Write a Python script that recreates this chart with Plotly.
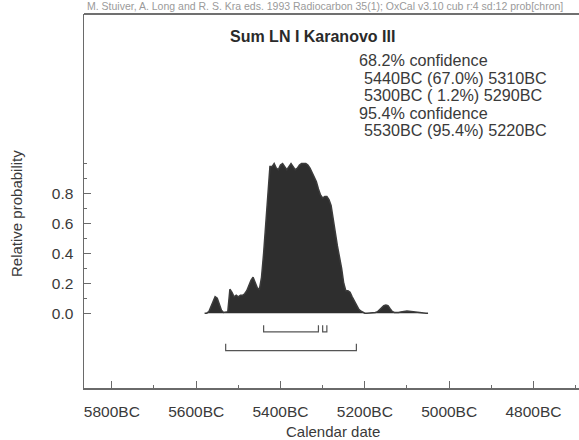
import plotly.graph_objects as go

# ---- data ----
years_bc = [5580, 5575, 5570, 5565, 5560, 5555, 5550, 5545, 5540, 5535, 5530, 5525,
            5520, 5515, 5510, 5505, 5500, 5495, 5490, 5485, 5480, 5475, 5470, 5465,
            5460, 5455, 5450, 5445, 5440, 5435, 5430, 5425, 5420, 5415, 5410, 5405,
            5400, 5395, 5390, 5385, 5380, 5375, 5370, 5365, 5360, 5355, 5350, 5345,
            5340, 5335, 5330, 5325, 5320, 5315, 5310, 5305, 5300, 5295, 5290, 5285,
            5280, 5275, 5270, 5265, 5260, 5255, 5250, 5245, 5240, 5235, 5230, 5225,
            5220, 5215, 5210, 5205, 5200, 5195, 5190, 5185, 5180, 5175, 5170, 5165,
            5160, 5155, 5150, 5145, 5140, 5135, 5130, 5125, 5120, 5115, 5110, 5105,
            5100, 5095, 5090, 5085, 5080, 5075, 5070, 5065, 5060, 5055, 5050]
probability = [0.0, 0.0, 0.01, 0.04, 0.08, 0.11, 0.10, 0.06, 0.02, 0.005, 0.005, 0.01,
               0.16, 0.14, 0.11, 0.12, 0.11, 0.12, 0.12, 0.13, 0.15, 0.19, 0.22, 0.24,
               0.21, 0.17, 0.16, 0.24, 0.40, 0.60, 0.85, 0.98, 0.98, 1.0, 0.97, 0.96,
               0.99, 1.0, 0.98, 0.96, 0.98, 1.0, 0.98, 0.96, 0.97, 0.99, 1.0, 1.0,
               1.0, 0.99, 0.97, 0.94, 0.91, 0.88, 0.83, 0.79, 0.77, 0.78, 0.78, 0.76,
               0.72, 0.64, 0.54, 0.45, 0.38, 0.30, 0.20, 0.15, 0.15, 0.14, 0.11, 0.08,
               0.05, 0.03, 0.015, 0.005, 0.0, 0.0, 0.0, 0.0, 0.003, 0.005, 0.01, 0.025,
               0.04, 0.05, 0.055, 0.05, 0.03, 0.012, 0.005, 0.003, 0.005, 0.008, 0.011, 0.013,
               0.014, 0.013, 0.011, 0.008, 0.005, 0.003, 0.002, 0.001, 0.001, 0.0, 0.0]

range_68_from = [5440, 5300]
range_68_to = [5310, 5290]
range_95_from = [5530]
range_95_to = [5220]

title_text = "Sum LN I Karanovo III"
conf_lines = ["68.2% confidence",
              "5440BC (67.0%) 5310BC",
              "5300BC ( 1.2%) 5290BC",
              "95.4% confidence",
              "5530BC (95.4%) 5220BC"]
header_text = ("M. Stuiver, A. Long and R. S. Kra eds. 1993 Radiocarbon 35(1); "
               "OxCal v3.10 cub r:4 sd:12 prob[chron]")

x_major = [5800, 5600, 5400, 5200, 5000, 4800]
x_minor = [5700, 5500, 5300, 5100, 4900, 4700]
x_labels = ["5800BC", "5600BC", "5400BC", "5200BC", "5000BC", "4800BC"]
y_major = [0.0, 0.2, 0.4, 0.6, 0.8]
y_minor = [0.1, 0.3, 0.5, 0.7, 0.9, 1.0]
y_labels = ["0.0", "0.2", "0.4", "0.6", "0.8"]

# ---- layout geometry (page body margin removed in post_script) ----
W, H = 579, 440
L = 84
T = 14
PLOT_BOTTOM = 388
B = H - PLOT_BOTTOM
R = 0
PW, PH = W - L - R, H - T - B

def px(xp):
    return (xp - L) / PW

def py(yp):
    return (PLOT_BOTTOM - yp) / PH

FONT = "Liberation Sans, Arial, sans-serif"
TXT = "#3a3a3a"
AX = "#6a6a6a"

fig = go.Figure()

fig.add_trace(go.Scatter(
    x=years_bc, y=probability, mode="lines", fill="tozeroy",
    fillcolor="#2e2e2e", line=dict(color="#3c3c3c", width=1.5),
    hoverinfo="skip", showlegend=False))

# confidence range brackets
def bracket(x0, x1, yb, hook):
    fig.add_trace(go.Scatter(
        x=[x0, x0, x1, x1], y=[yb + hook, yb, yb, yb + hook], mode="lines",
        line=dict(color="#555555", width=1.2), hoverinfo="skip", showlegend=False))

for a, b in zip(range_68_from, range_68_to):
    bracket(a, b, -0.125, 0.045)
for a, b in zip(range_95_from, range_95_to):
    bracket(a, b, -0.25, 0.045)

# top frame line of the plot box
fig.add_shape(type="line", xref="paper", yref="paper", x0=0, x1=1, y0=1, y1=1,
              line=dict(color="#707070", width=2), layer="above")

annotations = [
    dict(text=f"<b>{title_text}</b>", x=px(312), y=py(36), xref="paper", yref="paper",
         showarrow=False, font=dict(family=FONT, size=16, color="#2a2a2a"),
         xanchor="center", yanchor="middle"),
    dict(text=header_text, x=px(325), y=py(6), xref="paper", yref="paper",
         showarrow=False, font=dict(family=FONT, size=10.5, color="#9a9a9a"),
         xanchor="center", yanchor="middle"),
    dict(text="Relative probability", x=px(17), y=py(214), xref="paper", yref="paper",
         showarrow=False, textangle=-90, font=dict(family=FONT, size=15, color=TXT),
         xanchor="center", yanchor="middle"),
    dict(text="Calendar date", x=px(333), y=py(431), xref="paper", yref="paper",
         showarrow=False, font=dict(family=FONT, size=15, color=TXT),
         xanchor="center", yanchor="middle"),
]
line_y = [60, 77.5, 95, 112.5, 130]
line_x = [357, 362, 362, 357, 362]
for txt, yy, xx in zip(conf_lines, line_y, line_x):
    annotations.append(dict(text=txt, x=px(xx), y=py(yy), xref="paper", yref="paper",
                            showarrow=False, font=dict(family=FONT, size=16.2, color=TXT),
                            xanchor="left", yanchor="middle"))

fig.update_layout(
    width=W, height=H, margin=dict(l=L, r=R, t=T, b=B, autoexpand=False),
    paper_bgcolor="white", plot_bgcolor="white",
    annotations=annotations,
    xaxis=dict(range=[5866, 4692], showgrid=False, zeroline=False, automargin=False,
               showline=True, linecolor=AX, linewidth=1.5, mirror=False,
               tickmode="array", tickvals=x_major, ticktext=x_labels,
               ticks="inside", ticklen=7, tickcolor=AX, tickwidth=1,
               ticklabelstandoff=9,
               minor=dict(tickmode="array", tickvals=x_minor, ticks="inside",
                          ticklen=3, tickcolor=AX, showgrid=False),
               tickfont=dict(family=FONT, size=15.5, color=TXT)),
    yaxis=dict(range=[-0.5, 2.0], showgrid=False, zeroline=False, automargin=False,
               showline=True, linecolor=AX, linewidth=1.5, mirror=False,
               tickmode="array", tickvals=y_major, ticktext=y_labels,
               ticks="inside", ticklen=7, tickcolor=AX, tickwidth=1,
               ticklabelstandoff=6,
               minor=dict(tickmode="array", tickvals=y_minor, ticks="inside",
                          ticklen=3, tickcolor=AX, showgrid=False),
               tickfont=dict(family=FONT, size=15.5, color=TXT)),
)

fig.write_html("out.html",
               config={"displayModeBar": False, "staticPlot": True},
               post_script="document.body.style.margin='0';"
                           "document.body.style.overflow='hidden';")
